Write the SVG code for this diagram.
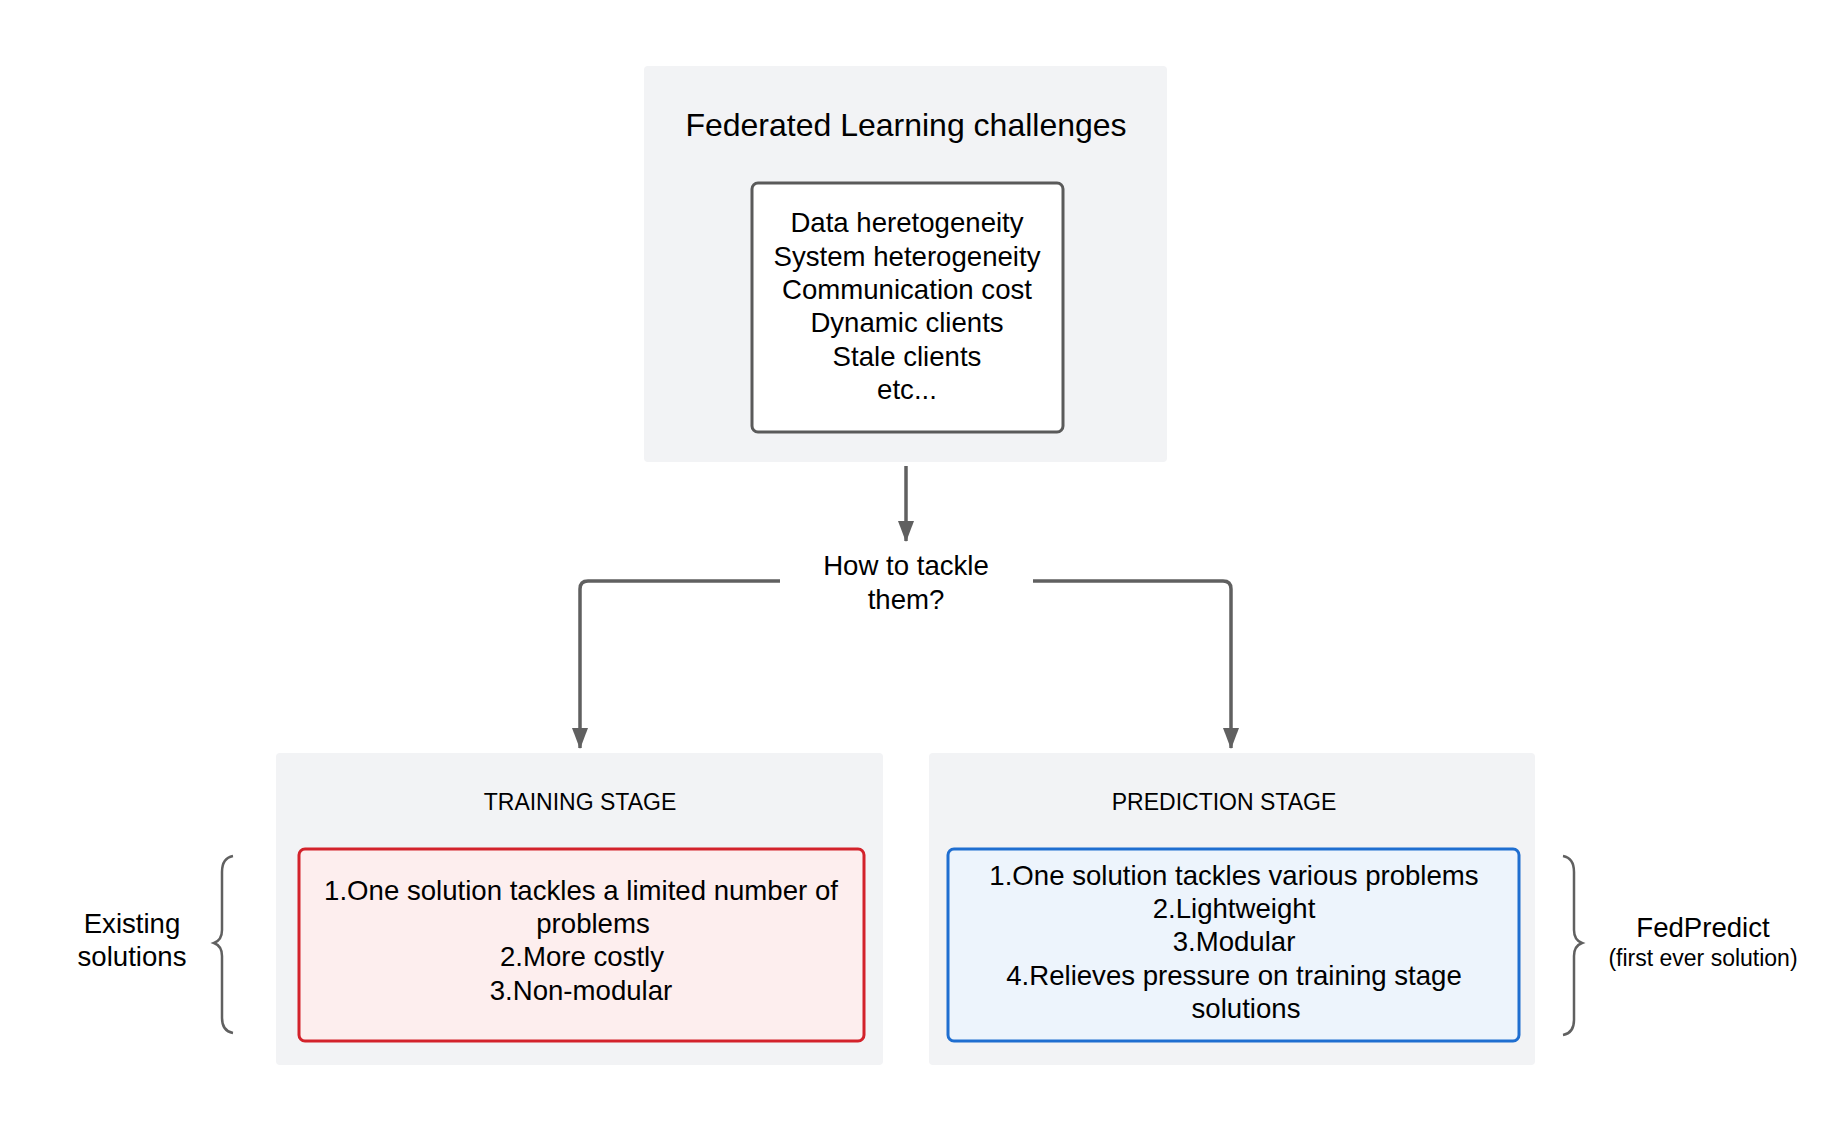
<svg xmlns="http://www.w3.org/2000/svg" width="1844" height="1133" viewBox="0 0 1844 1133">
<defs>
<style>
text{font-family:"Liberation Sans",Arial,sans-serif;fill:#000;text-anchor:middle}
.b{font-size:27.6px}
.t{font-size:32px}
.s{font-size:23px}
.grp{fill:#f2f3f5}
.con{fill:none;stroke:#606060;stroke-width:3.5}
.br{fill:none;stroke:#606060;stroke-width:2.5}
</style>
<marker id="ah" markerUnits="userSpaceOnUse" markerWidth="22" markerHeight="16" refX="20" refY="8" orient="auto">
<path d="M0,0 L21,8 L0,16 z" fill="#606060"/>
</marker>
</defs>
<rect width="1844" height="1133" fill="#fff"/>

<g id="challenges">
<rect class="grp" x="644" y="66" width="523" height="396" rx="4"/>
<text class="t" x="906" y="136">Federated Learning challenges</text>
<rect x="752" y="183" width="311" height="249" rx="6" fill="#fff" stroke="#5a5a5a" stroke-width="3"/>
<text class="b" x="907" y="232">Data heretogeneity</text>
<text class="b" x="907" y="266">System heterogeneity</text>
<text class="b" x="907" y="299">Communication cost</text>
<text class="b" x="907" y="332">Dynamic clients</text>
<text class="b" x="907" y="366">Stale clients</text>
<text class="b" x="907" y="399">etc...</text>
</g>

<g id="question">
<text class="b" x="906" y="575">How to tackle</text>
<text class="b" x="906" y="609">them?</text>
</g>

<g id="training">
<rect class="grp" x="276" y="753" width="607" height="312" rx="4"/>
<text class="s" x="580" y="810">TRAINING STAGE</text>
<rect x="299" y="849" width="565" height="192" rx="6" fill="#fdeeee" stroke="#d3222b" stroke-width="3"/>
<text class="b" x="581" y="900">1.One solution tackles a limited number of</text>
<text class="b" x="593" y="933">problems</text>
<text class="b" x="582" y="966">2.More costly</text>
<text class="b" x="581" y="1000">3.Non-modular</text>
</g>

<g id="prediction">
<rect class="grp" x="929" y="753" width="606" height="312" rx="4"/>
<text class="s" x="1224" y="810">PREDICTION STAGE</text>
<rect x="948" y="849" width="571" height="192" rx="6" fill="#edf4fc" stroke="#1f6ed0" stroke-width="3"/>
<text class="b" x="1234" y="885">1.One solution tackles various problems</text>
<text class="b" x="1234" y="918">2.Lightweight</text>
<text class="b" x="1234" y="951">3.Modular</text>
<text class="b" x="1234" y="985">4.Relieves pressure on training stage</text>
<text class="b" x="1246" y="1018">solutions</text>
</g>

<g id="existing">
<path class="br" d="M233,856 Q222,858 222,872 V930 Q222,940 214,943 Q222,946 222,956 V1018 Q222,1031 233,1033"/>
<text class="b" x="132" y="933">Existing</text>
<text class="b" x="132" y="966">solutions</text>
</g>

<g id="fedpredict">
<path class="br" d="M1563,856 Q1574,858 1574,872 V930 Q1574,940 1582,943 Q1574,946 1574,956 V1020 Q1574,1033 1563,1035"/>
<text class="b" x="1703" y="937">FedPredict</text>
<text class="s" x="1703" y="966">(first ever solution)</text>
</g>

<g id="connectors">
<path class="con" d="M906,466 V541" marker-end="url(#ah)"/>
<path class="con" d="M780,581 H588 Q580,581 580,589 V748" marker-end="url(#ah)"/>
<path class="con" d="M1033,581 H1223 Q1231,581 1231,589 V748" marker-end="url(#ah)"/>
</g>
</svg>
